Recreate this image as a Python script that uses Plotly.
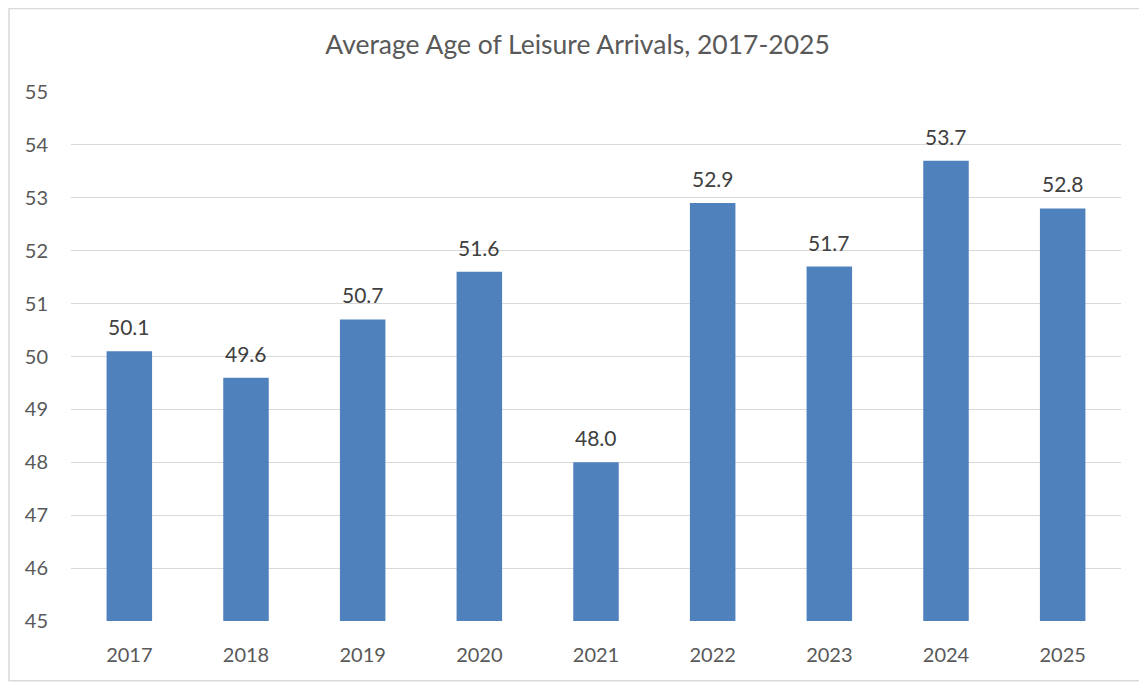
import plotly.graph_objects as go

years = ["2017", "2018", "2019", "2020", "2021", "2022", "2023", "2024", "2025"]
avg_age = [50.1, 49.6, 50.7, 51.6, 48.0, 52.9, 51.7, 53.7, 52.8]

font_family = "Lato, 'Open Sans', sans-serif"

fig = go.Figure()

# bars, drawn from the 45 baseline
fig.add_trace(go.Bar(
    x=years, y=[v - 45 for v in avg_age], base=45,
    marker=dict(color="#4F81BD", line=dict(width=0)),
    width=0.39, hoverinfo="x+y",
))

# value labels a little above each bar (category axis -> serial index)
for i, v in enumerate(avg_age):
    fig.add_annotation(x=i, y=v, text=f"{v:.1f}", showarrow=False,
                       yanchor="bottom", yshift=10,
                       font=dict(size=21, color="#404040", family=font_family))

# page body has an 8px margin, so the figure is 8px smaller and offset
fig.update_layout(
    width=1139, height=675,
    margin=dict(l=63, r=26, t=84, b=62),
    paper_bgcolor="white", plot_bgcolor="white",
    showlegend=False,
    title=dict(text="Average Age of Leisure Arrivals, 2017-2025",
               x=0.5, xanchor="center", y=0.946, yanchor="middle",
               font=dict(size=26.5, color="#595959", family=font_family)),
    xaxis=dict(type="category", range=[-0.5, len(years) - 0.5],
               showgrid=False, showline=False, ticks="",
               automargin=False, ticklabelstandoff=20,
               tickfont=dict(size=20, color="#595959", family=font_family)),
    yaxis=dict(range=[45, 55], dtick=1, showline=False, zeroline=False,
               gridcolor="#D9D9D9", gridwidth=1.3, ticks="", automargin=False,
               ticklabelstandoff=22,
               tickfont=dict(size=20, color="#595959", family=font_family)),
)

# light chart-area border, cut off on the right like the source
fig.add_shape(type="rect", xref="paper", yref="paper",
              x0=-0.059, x1=1.05, y0=-0.113, y1=1.158,
              line=dict(color="#D9D9D9", width=1.5), layer="below")

fig.write_html("out.html")
